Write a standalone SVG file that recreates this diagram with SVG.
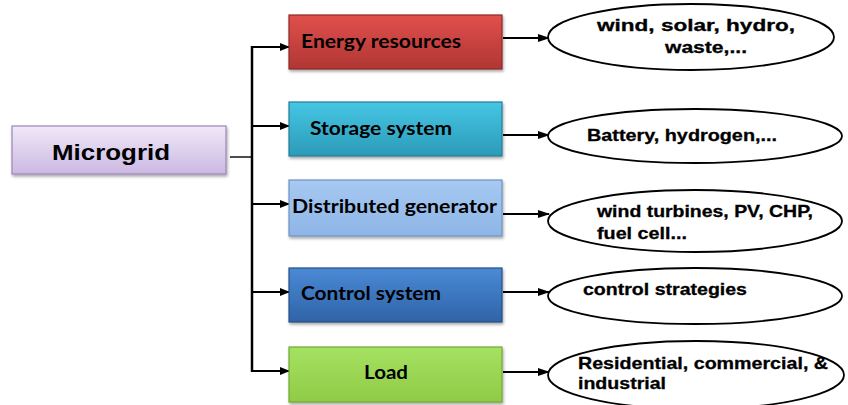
<svg xmlns="http://www.w3.org/2000/svg" width="848" height="405" viewBox="0 0 848 405">
<defs>
<linearGradient id="gMicro" x1="0" y1="0" x2="0" y2="1"><stop offset="0" stop-color="#f0e9f7"/><stop offset="1" stop-color="#cbb8e3"/></linearGradient>
<linearGradient id="gRed" x1="0" y1="0" x2="0" y2="1"><stop offset="0" stop-color="#e0504c"/><stop offset="1" stop-color="#b03634"/></linearGradient>
<linearGradient id="gCyan" x1="0" y1="0" x2="0" y2="1"><stop offset="0" stop-color="#45c6e4"/><stop offset="1" stop-color="#2b9bb8"/></linearGradient>
<linearGradient id="gLblue" x1="0" y1="0" x2="0" y2="1"><stop offset="0" stop-color="#a7c9f2"/><stop offset="1" stop-color="#8db5e6"/></linearGradient>
<linearGradient id="gBlue" x1="0" y1="0" x2="0" y2="1"><stop offset="0" stop-color="#4b8ad6"/><stop offset="1" stop-color="#2f63a6"/></linearGradient>
<linearGradient id="gGreen" x1="0" y1="0" x2="0" y2="1"><stop offset="0" stop-color="#a6e262"/><stop offset="1" stop-color="#8fcb45"/></linearGradient>
<filter id="sh" x="-10%" y="-10%" width="120%" height="130%"><feDropShadow dx="1" dy="2" stdDeviation="1.5" flood-color="#000" flood-opacity="0.35"/></filter>
<marker id="ah" markerWidth="10" markerHeight="8" refX="9" refY="4" orient="auto" markerUnits="userSpaceOnUse"><path d="M0,0 L10,4 L0,8 Z" fill="#000"/></marker>
<marker id="ah2" markerWidth="12" markerHeight="8" refX="11" refY="4" orient="auto" markerUnits="userSpaceOnUse"><path d="M0,0 L12,4 L0,8 Z" fill="#000"/></marker>
</defs>
<style>
.box{stroke-width:1.2;filter:url(#sh)}
.bt{font-family:Lato,"Open Sans",sans-serif;font-weight:bold;font-size:18px;fill:#000;dominant-baseline:central}
.et{font-family:"Liberation Sans",Arial,sans-serif;font-weight:bold;font-size:17px;fill:#000;stroke:#000;stroke-width:0.3}
.ell{fill:#fff;stroke:#000;stroke-width:1.8}
.bus{stroke:#000;stroke-width:2.5;fill:none}
.thin{stroke:#000;stroke-width:1.4;fill:none}
.ar{stroke:#000;stroke-width:2;fill:none;marker-end:url(#ah)}
.ar2{stroke:#000;stroke-width:1.8;fill:none;marker-end:url(#ah2)}
</style>

<g id="connectors">
<line class="thin" x1="230" y1="157" x2="252" y2="157"/>
<line class="bus" x1="252" y1="46" x2="252" y2="372"/>
<line class="ar" x1="251" y1="47" x2="289" y2="47"/>
<line class="ar" x1="251" y1="126" x2="289" y2="126"/>
<line class="ar" x1="251" y1="204" x2="289" y2="204"/>
<line class="ar" x1="251" y1="292" x2="289" y2="292"/>
<line class="ar" x1="251" y1="371" x2="289" y2="371"/>
<line class="ar2" x1="503" y1="38" x2="549" y2="38"/>
<line class="ar2" x1="503" y1="135" x2="549" y2="135"/>
<line class="ar2" x1="503" y1="214" x2="549" y2="214"/>
<line class="ar2" x1="503" y1="292" x2="549" y2="292"/>
<line class="ar2" x1="503" y1="372" x2="549" y2="372"/>
</g>

<g id="microgrid">
<rect class="box" x="12" y="126" width="214" height="48" fill="url(#gMicro)" stroke="#9a86b8"/>
<text x="52" y="152" font-family="Liberation Sans,Arial,sans-serif" font-weight="bold" font-size="22" dominant-baseline="central" textLength="118" lengthAdjust="spacingAndGlyphs">Microgrid</text>
</g>

<g id="energy">
<rect class="box" x="289" y="15" width="213" height="54" fill="url(#gRed)" stroke="#8e2a28"/>
<text class="bt" x="301" y="41" textLength="160" lengthAdjust="spacingAndGlyphs">Energy resources</text>
</g>
<g id="storage">
<rect class="box" x="289" y="102" width="213" height="54" fill="url(#gCyan)" stroke="#237e96"/>
<text class="bt" x="310" y="128" textLength="142" lengthAdjust="spacingAndGlyphs">Storage system</text>
</g>
<g id="distributed">
<rect class="box" x="289" y="180" width="213" height="56" fill="url(#gLblue)" stroke="#6f93c2"/>
<text class="bt" x="292" y="206" textLength="205" lengthAdjust="spacingAndGlyphs">Distributed generator</text>
</g>
<g id="control">
<rect class="box" x="289" y="268" width="213" height="54" fill="url(#gBlue)" stroke="#254f86"/>
<text class="bt" x="301" y="293" textLength="140" lengthAdjust="spacingAndGlyphs">Control system</text>
</g>
<g id="load">
<rect class="box" x="289" y="347" width="213" height="55" fill="url(#gGreen)" stroke="#73a832"/>
<text class="bt" x="364" y="372" textLength="44" lengthAdjust="spacingAndGlyphs">Load</text>
</g>

<g id="e-energy">
<ellipse class="ell" cx="691" cy="37" rx="143" ry="33"/>
<text class="et" x="597" y="31" textLength="198" lengthAdjust="spacingAndGlyphs">wind, solar, hydro,</text>
<text class="et" x="665" y="53" textLength="82" lengthAdjust="spacingAndGlyphs">waste,...</text>
</g>
<g id="e-storage">
<ellipse class="ell" cx="695" cy="136" rx="147" ry="27"/>
<text class="et" x="587" y="141" textLength="190" lengthAdjust="spacingAndGlyphs">Battery, hydrogen,...</text>
</g>
<g id="e-distributed">
<ellipse class="ell" cx="695" cy="221" rx="147" ry="31"/>
<text class="et" x="597" y="217" textLength="216" lengthAdjust="spacingAndGlyphs">wind turbines, PV, CHP,</text>
<text class="et" x="597" y="239" textLength="90" lengthAdjust="spacingAndGlyphs">fuel cell...</text>
</g>
<g id="e-control">
<ellipse class="ell" cx="695" cy="296" rx="147" ry="28"/>
<text class="et" x="583" y="295" textLength="164" lengthAdjust="spacingAndGlyphs">control strategies</text>
</g>
<g id="e-load">
<ellipse class="ell" cx="696" cy="375" rx="148" ry="34"/>
<text class="et" x="578" y="369" textLength="250" lengthAdjust="spacingAndGlyphs">Residential, commercial, &amp;</text>
<text class="et" x="578" y="389" textLength="88" lengthAdjust="spacingAndGlyphs">industrial</text>
</g>
</svg>
